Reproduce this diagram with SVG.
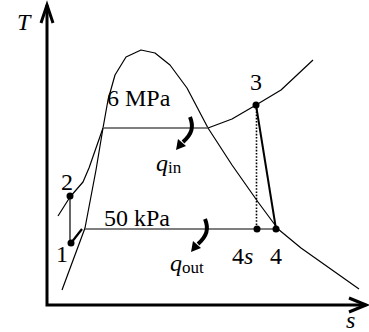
<svg xmlns="http://www.w3.org/2000/svg" width="369" height="332" viewBox="0 0 369 332">
<style>
.lbl{font-family:"Liberation Serif","Times New Roman",serif;font-size:24px;fill:#000}
.it{font-style:italic}
.sub{font-size:17px;font-style:normal}
.thin{fill:none;stroke:#000;stroke-width:1.2;stroke-linejoin:round}
.iso{fill:none;stroke:#555;stroke-width:1.3}
.axis{fill:none;stroke:#000;stroke-width:3}
.dot{fill:#000}
.heat{fill:none;stroke:#000;stroke-width:4;stroke-linecap:butt}
</style>
<rect width="369" height="332" fill="#fff"/>
<g id="axes">
<polyline class="axis" points="47,5 47,305 366,305"/>
<polyline class="axis" points="41,23 47,5 53,23"/>
<polyline class="axis" points="349,298 366,305 349,312"/>
<text class="lbl it" x="17" y="30">T</text>
<text class="lbl it" x="346" y="328">s</text>
</g>
<g id="connectors">
<polyline id="dome" class="thin" points="62,290 85,228 96,170 103,128 108,100 115,75 126,57 141,50 155,53 170,65 187,88 208,128 232,165 258,202 278,229 301,248 359,289"/>
<polyline id="liq6" class="thin" points="103,128 89,168 83,182 70,197 58,216"/>
<polyline id="sup6" class="thin" points="208,128 232,119 256,105 281,90 313,60"/>
<line id="iso6" class="iso" x1="103" y1="128" x2="208" y2="128"/>
<line id="iso50" class="iso" x1="85" y1="229" x2="277" y2="229"/>
<line id="p12" class="thin" x1="70" y1="196" x2="70" y2="243"/>
<line id="p1sat" stroke="#000" stroke-width="2.2" x1="71" y1="243" x2="82" y2="229"/>
<line id="p34" stroke="#000" stroke-width="2" x1="256" y1="105" x2="276" y2="229"/>
<line id="p34s" stroke="#000" stroke-width="1.6" stroke-dasharray="1.6,1.6" x1="256.5" y1="105" x2="256.5" y2="228"/>
</g>
<g id="qin">
<path class="heat" d="M190,117 C194,127 192,134 183,142"/>
<polygon class="dot" points="176,150 186,146 178,139"/>
<text class="lbl it" x="156" y="171">q<tspan class="sub" dy="2">in</tspan></text>
</g>
<g id="qout">
<path class="heat" d="M205,219 C209,229 207,236 198,244"/>
<polygon class="dot" points="191,252 201,248 193,241"/>
<text class="lbl it" x="170" y="271">q<tspan class="sub" dy="2">out</tspan></text>
</g>
<g id="label6MPa"><text class="lbl" x="107" y="106">6 MPa</text></g>
<g id="label50kPa"><text class="lbl" x="104" y="226">50 kPa</text></g>
<g id="n1"><circle class="dot" cx="71" cy="243" r="3.5"/><text class="lbl" x="56" y="262">1</text></g>
<g id="n2"><circle class="dot" cx="70" cy="196" r="3.5"/><text class="lbl" x="61" y="190">2</text></g>
<g id="n3"><circle class="dot" cx="256" cy="105" r="3.5"/><text class="lbl" x="250" y="90">3</text></g>
<g id="n4s"><circle class="dot" cx="257" cy="229" r="3.5"/><text class="lbl" x="232" y="264">4<tspan class="it">s</tspan></text></g>
<g id="n4"><circle class="dot" cx="276" cy="229" r="3.5"/><text class="lbl" x="270" y="264">4</text></g>
</svg>
